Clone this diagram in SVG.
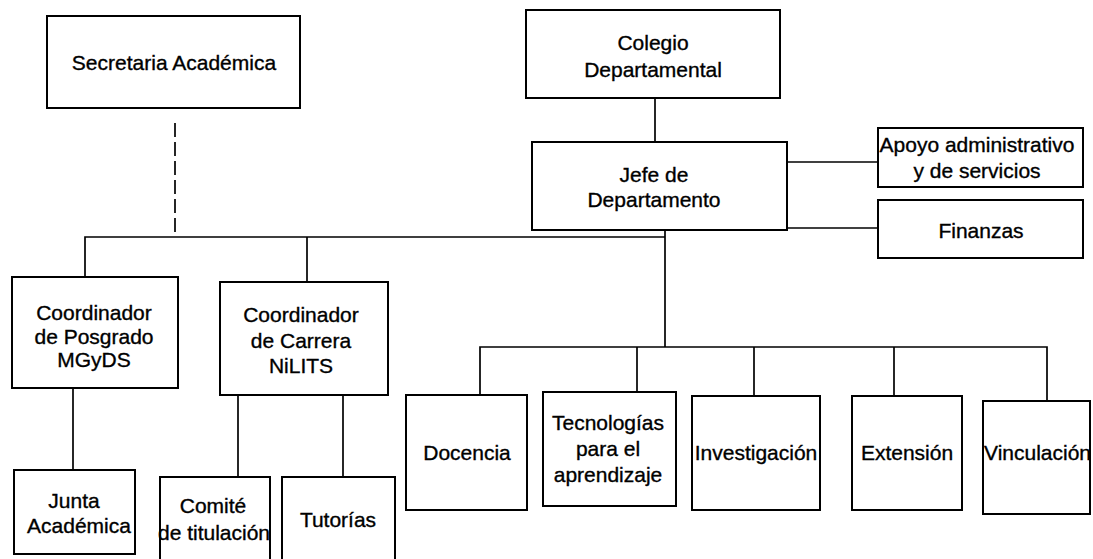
<svg xmlns="http://www.w3.org/2000/svg" width="1093" height="559" viewBox="0 0 1093 559">
<style>
.box{fill:#fff;stroke:#000;stroke-width:2}
.ln{fill:none;stroke:#000;stroke-width:1.7}
text{font-family:"Liberation Sans",Arial,sans-serif;font-size:21px;fill:#000;stroke:#000;stroke-width:0.35;text-anchor:middle}
</style>
<rect width="1093" height="559" fill="#fff"/>
<g id="connectors">
<path class="ln" d="M175 123 V237" stroke-dasharray="14 5"/>
<path class="ln" d="M85 276 V237 H665"/>
<path class="ln" d="M307 282 V237"/>
<path class="ln" d="M655 98 V142"/>
<path class="ln" d="M665 230 V347"/>
<path class="ln" d="M480 395 V347 H1047 V401"/>
<path class="ln" d="M637 392 V347"/>
<path class="ln" d="M754 396 V347"/>
<path class="ln" d="M894 396 V347"/>
<path class="ln" d="M787 162 H878"/>
<path class="ln" d="M787 228 H878"/>
<path class="ln" d="M73 388 V470"/>
<path class="ln" d="M238 395 V477"/>
<path class="ln" d="M343 395 V477"/>
</g>
<g id="secretaria"><rect class="box" x="47" y="16" width="253" height="92"/><text x="174" y="70">Secretaria Académica</text></g>
<g id="colegio"><rect class="box" x="526" y="10" width="254" height="88"/><text x="653" y="50">Colegio</text><text x="653" y="77">Departamental</text></g>
<g id="jefe"><rect class="box" x="532" y="142" width="255" height="88"/><text x="654" y="182">Jefe de</text><text x="654" y="207">Departamento</text></g>
<g id="apoyo"><rect class="box" x="878" y="128" width="205" height="59"/><text x="977" y="152">Apoyo administrativo</text><text x="977" y="178">y de servicios</text></g>
<g id="finanzas"><rect class="box" x="878" y="200" width="205" height="58"/><text x="981" y="238">Finanzas</text></g>
<g id="posgrado"><rect class="box" x="12" y="277" width="166" height="111"/><text x="94" y="320">Coordinador</text><text x="94" y="344">de Posgrado</text><text x="94" y="367">MGyDS</text></g>
<g id="carrera"><rect class="box" x="220" y="282" width="168" height="113"/><text x="301" y="322">Coordinador</text><text x="301" y="348">de Carrera</text><text x="301" y="373">NiLITS</text></g>
<g id="junta"><rect class="box" x="14" y="470" width="121" height="84"/><text x="74" y="508">Junta</text><text x="79" y="533">Académica</text></g>
<g id="comite"><rect class="box" x="160" y="477" width="110" height="100"/><text x="213" y="513">Comité</text><text x="214" y="540">de titulación</text></g>
<g id="tutorias"><rect class="box" x="282" y="477" width="113" height="100"/><text x="338" y="527">Tutorías</text></g>
<g id="docencia"><rect class="box" x="406" y="395" width="121" height="115"/><text x="467" y="460">Docencia</text></g>
<g id="tecnologias"><rect class="box" x="543" y="392" width="133" height="114"/><text x="608" y="430">Tecnologías</text><text x="608" y="456">para el</text><text x="608" y="482">aprendizaje</text></g>
<g id="investigacion"><rect class="box" x="692" y="396" width="128" height="114"/><text x="756" y="460">Investigación</text></g>
<g id="extension"><rect class="box" x="852" y="396" width="110" height="114"/><text x="907" y="460">Extensión</text></g>
<g id="vinculacion"><rect class="box" x="983" y="401" width="107" height="113"/><text x="984" y="460" style="text-anchor:start">Vinculación</text></g>
</svg>
